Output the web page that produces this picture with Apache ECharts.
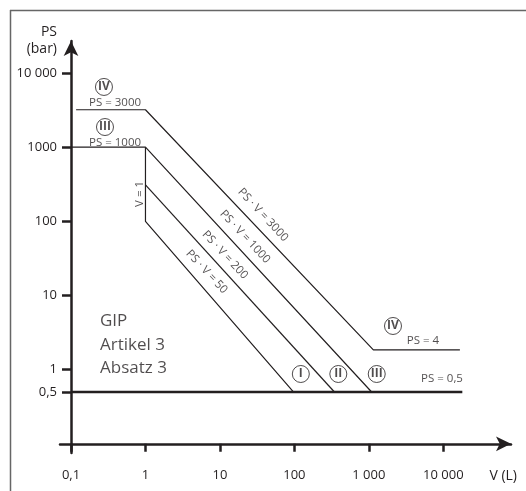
<!DOCTYPE html>
<html><head><meta charset="utf-8">
<script src="https://cdn.jsdelivr.net/npm/echarts@6/dist/echarts.min.js"></script>
<style>html,body{margin:0;padding:0;background:#fff}#c{width:526px;height:491px}</style>
</head><body><div id="c"></div>
<script>
// ---- tick values / labels ----
const xTickValues = [0.1, 1, 10, 100, 1000, 10000];
const xTickLabels = ['0,1', '1', '10', '100', '1 000', '10 000'];
const yTickValues = [0.5, 1, 10, 100, 1000, 10000];
const yTickLabels = ['0,5', '1', '10', '100', '1000', '10 000'];

// ---- boundary lines [V (L), PS (bar)] ----
const catI   = [[1, 1000], [1, 100], [97, 0.5]];
const catII  = [[1, 310], [345, 0.5]];
const catIII = [[0.1, 1000], [1, 1000], [1090, 0.5]];
const catIV  = [[0.117, 3200], [1, 3200], [1150, 1.85], [16700, 1.85]];
const limitLine = [[0.1, 0.5], [18000, 0.5]];

// ---- circled category markers ----
const circleNames = ['IV', 'III', 'IV', 'I', 'II', 'III'];
const circleV  = [0.277, 0.286, 2110, 122, 389, 1276];
const circlePS = [6490, 1870, 3.88, 0.874, 0.874, 0.874];

// ---- text notes ----
const noteTexts = ['PS = 3000', 'PS = 1000', 'PS = 4', 'PS = 0,5', 'V = 1',
  'PS · V = 3000', 'PS · V = 1000', 'PS · V = 200', 'PS · V = 50'];
const noteV  = [0.39, 0.39, 5330, 9600, 0.845, 37.9, 21.7, 11.7, 6.64];
const notePS = [3950, 1140, 2.43, 0.748, 234, 122, 62, 35.2, 20.9];
const noteAngle = [0, 0, 0, 0, 90, -47, -47, -47, -47];

const blockText = 'GIP\nArtikel 3\nAbsatz 3';
const blockV = 0.245, blockPS = 2.15;

const FONT = '"Open Sans", "Noto Sans", sans-serif';
const INK = '#231f20';

function lookup(vals, labs) {
  return function (v) {
    for (let i = 0; i < vals.length; i++) {
      if (Math.abs(Math.log10(v) - Math.log10(vals[i])) < 1e-6) return labs[i];
    }
    return '';
  };
}

function lineSeries(data, w) {
  return { type: 'line', data: data, symbol: 'none', silent: true,
    lineStyle: { color: INK, width: w || 1.2 }, z: 3 };
}

const chart = echarts.init(document.getElementById('c'), null, { renderer: 'canvas' });
chart.setOption({
  animation: false,
  backgroundColor: '#fff',
  textStyle: { fontFamily: FONT, color: INK },
  grid: { left: 60, right: 15, top: 41, bottom: 38, containLabel: false },
  xAxis: {
    type: 'log', min: 0.07115, max: 81100, offset: -9.2,
    name: 'V (L)', nameLocation: 'end', nameGap: 6,
    nameTextStyle: { fontFamily: FONT, fontSize: 14, color: INK, align: 'right', verticalAlign: 'top', padding: [25, 0, 0, 0] },
    axisLine: { lineStyle: { color: INK, width: 2.5 }, symbol: ['none', 'arrow'], symbolSize: [11, 15] },
    axisTick: { customValues: xTickValues, length: 8, lineStyle: { color: INK, width: 2.5 } },
    axisLabel: { customValues: xTickValues, formatter: lookup(xTickValues, xTickLabels), margin: 25,
      fontFamily: FONT, fontSize: 13, color: INK },
    splitLine: { show: false }, minorTick: { show: false }
  },
  yAxis: {
    type: 'log', min: 0.07516, max: 27040, offset: -11,
    name: 'PS\n(bar)', nameLocation: 'end', nameGap: 0,
    nameTextStyle: { fontFamily: FONT, fontSize: 14, color: INK, align: 'right', verticalAlign: 'middle', lineHeight: 17, padding: [0, 14, 0, 0] },
    axisLine: { lineStyle: { color: INK, width: 2.5 }, symbol: ['none', 'arrow'], symbolSize: [11, 15] },
    axisTick: { customValues: yTickValues, length: 9, lineStyle: { color: INK, width: 2.5 } },
    axisLabel: { customValues: yTickValues, formatter: lookup(yTickValues, yTickLabels), margin: 14,
      fontFamily: FONT, fontSize: 13, color: INK },
    splitLine: { show: false }, minorTick: { show: false }
  },
  graphic: [
    { type: 'line', shape: { x1: 10, y1: 10.5, x2: 526, y2: 10.5 }, style: { stroke: '#666', lineWidth: 1.5 } },
    { type: 'line', shape: { x1: 10.5, y1: 10, x2: 10.5, y2: 491 }, style: { stroke: '#666', lineWidth: 1.5 } }
  ],
  series: [
    lineSeries(limitLine, 2.5),
    lineSeries(catI),
    lineSeries(catII),
    lineSeries(catIII),
    lineSeries(catIV),
    {
      type: 'scatter', silent: true, z: 5,
      symbol: 'circle', symbolSize: 17,
      itemStyle: { color: '#fff', borderColor: INK, borderWidth: 1 },
      label: { show: true, position: 'inside', formatter: '{b}', fontFamily: FONT, fontSize: 12, fontWeight: 'bold', color: INK },
      data: circleV.map((v, i) => ({ name: circleNames[i], value: [v, circlePS[i]] }))
    },
    {
      type: 'scatter', silent: true, z: 5,
      symbol: 'circle', symbolSize: 1,
      itemStyle: { color: 'rgba(0,0,0,0)' },
      label: { show: true, position: 'inside', formatter: '{b}', fontFamily: FONT, fontSize: 11.5, color: INK },
      data: noteV.map((v, i) => ({ name: noteTexts[i], value: [v, notePS[i]], label: { rotate: noteAngle[i] } })).concat([
        { name: blockText, value: [blockV, blockPS],
          label: { align: 'left', verticalAlign: 'middle', fontSize: 17, lineHeight: 23.5 } }
      ])
    }
  ]
});
</script></body></html>
